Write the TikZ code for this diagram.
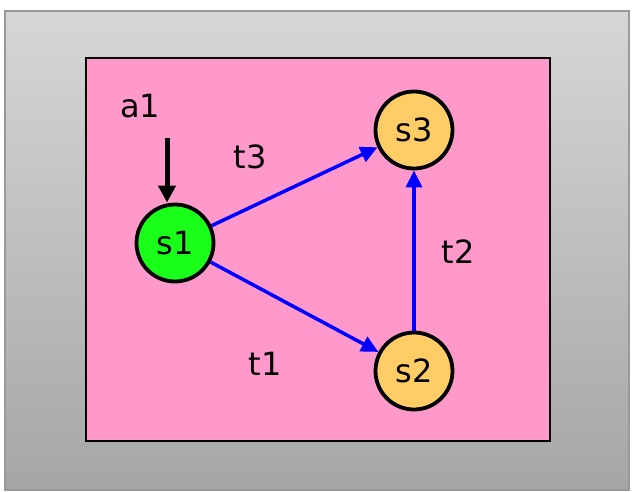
\documentclass[tikz,border=0pt]{standalone}
\usepackage{fontspec}
\setmainfont{DejaVu Sans}
\usepackage{xcolor}
\usetikzlibrary{positioning,arrows.meta}

\definecolor{panelpink}{HTML}{FF99CC}
\definecolor{startgreen}{HTML}{19FF19}
\definecolor{stateorange}{HTML}{FFCC66}

\begin{document}
\begin{tikzpicture}[
        x=1pt, y=-1pt,
        state/.style={draw, circle, line width=3.8pt, minimum size=77pt, inner sep=0pt, fill=stateorange, font=\fontsize{32}{38}\selectfont},
        lbl/.style={font=\fontsize{32}{38}\selectfont, inner sep=0pt},
        trans/.style={-{Triangle[length=17pt,width=16pt]}, line width=3.5pt, blue},
        act/.style={-{Triangle[length=17pt,width=17pt]}, line width=5pt, black}
    ]
        \useasboundingbox (0,0) rectangle (635,491);
        \shade[top color=black!16, bottom color=black!35, draw=black!40, line width=1.5pt] (5,11) rectangle (629,490);
        \draw[fill=panelpink, line width=1.8pt] (86,58) rectangle (550,441);

        \node[state, fill=startgreen] (s1) at (175,243) {s1};
        \node[state] (s3) at (414,130) {s3};
        \node[state] (s2) at (414,371) {s2};

        \node[lbl] (a1) at (140,106) {a1};
        \node[lbl] (t3) at (250,157) {t3};
        \node[lbl] (t2) at (458,252) {t2};
        \node[lbl] (t1) at (265,364) {t1};

        \coordinate (a1in) at (167,138);

        \draw[act] (a1in) -- (a1in |- s1.north);
        \draw[trans] (s1) -- (s3);
        \draw[trans] (s1) -- (s2);
        \draw[trans] (s2) -- (s3);
    \end{tikzpicture}
\end{document}
